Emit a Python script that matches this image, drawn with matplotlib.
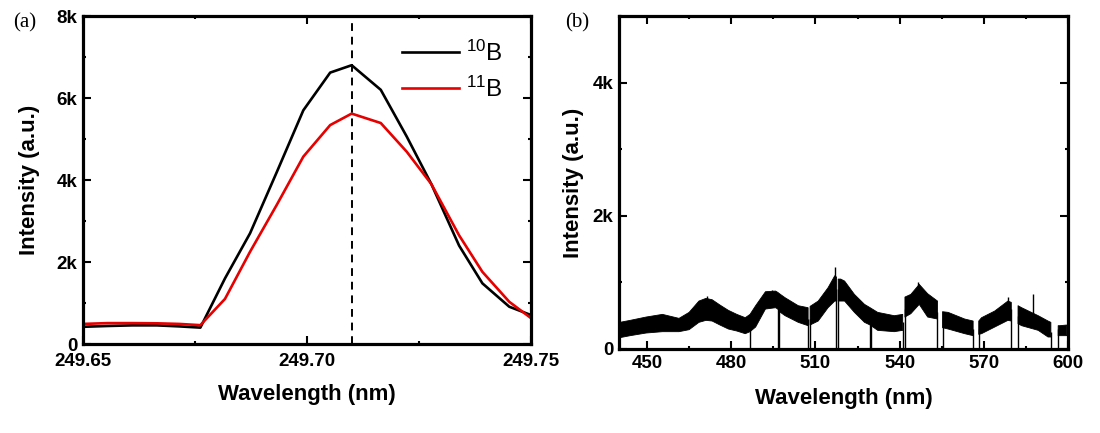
import numpy as np
import matplotlib
matplotlib.use("Agg")
import matplotlib.pyplot as plt
from matplotlib.ticker import MultipleLocator, FuncFormatter

plt.rcParams['font.family'] = ['Liberation Sans', 'DejaVu Sans']
plt.rcParams['mathtext.fontset'] = 'custom'
plt.rcParams['mathtext.rm'] = 'Liberation Sans'
plt.rcParams['mathtext.it'] = 'Liberation Sans:italic'

# ---------------- Panel (a) data ----------------
wl_a = [249.650, 249.6555, 249.661, 249.6665, 249.6715, 249.6762, 249.6817,
        249.6873, 249.6933, 249.6992, 249.7052, 249.7100, 249.7165, 249.7223,
        249.7278, 249.7340, 249.7392, 249.7452, 249.7502]
b10 = [420, 440, 455, 455, 430, 400, 1600, 2700, 4200, 5700, 6620, 6800,
       6200, 5060, 3900, 2400, 1480, 910, 700]
b11 = [490, 510, 510, 505, 490, 460, 1100, 2250, 3400, 4570, 5340, 5620,
       5390, 4690, 3900, 2650, 1760, 1030, 620]
peak_wl = 249.7100
labels_a = ['$^{10}$B', '$^{11}$B']

# ---------------- Panel (b) data (noise-band envelopes) ----------------
nan = np.nan
wl_b = [440.3, 444, 449.7, 455.5, 461.4, 465, 468.5, 471, 473.2, 476, 479, 482,
        485, 486.7, 488.7, 492.2, 495.8, 496.6, 497.2, 499.2, 503.9, 507.4,
        507.45, 508.1, 511, 514.5, 516.9, 517.5, 517.55, 518.1, 519.0, 520.4,
        523.9, 527.5, 529.5, 532.2, 538.1, 541.1,
        541.15, 541.9, 544, 547, 550, 553.5,
        553.55, 555.3, 557.3, 563.2, 566.2,
        566.25, 568.2, 569.2, 573.9, 578.6, 579.8,
        579.85, 582.2, 583.5, 589.4, 592.9, 593.9,
        593.95, 596.5, 597.1, 599.5]
hi_b = [400, 430, 480, 520, 460, 550, 720, 760, 740, 660, 580, 520,
        470, 520, 650, 860, 870, 850, 830, 770, 650, 620,
        nan, 640, 720, 920, 1100, 1080,
        nan, 1050, 1050, 1020,
        820, 670, 620, 550, 500, 520,
        nan, 780, 820, 970, 830, 720,
        nan, 560, 550, 450, 420,
        nan, 420, 470, 570, 720, 700,
        nan, 650, 620, 500, 420, 400,
        nan, 350, 350, 360]
lo_b = [170, 200, 240, 260, 260, 290, 400, 430, 420, 360, 300, 270,
        230, 260, 330, 600, 620, 600, 560, 500, 400, 350,
        nan, 360, 420, 620, 720, 720,
        nan, 720, 720, 720,
        550, 400, 360, 280, 260, 280,
        nan, 480, 530, 670, 480, 450,
        nan, 320, 300, 230, 200,
        nan, 220, 230, 330, 430, 420,
        nan, 380, 350, 280, 180, 180,
        nan, 200, 200, 200]
drop_wl = [486.8, 496.6, 497.1, 507.4, 508.1, 517.5, 518.1, 529.4, 529.8,
           541.1, 541.9, 553.5, 555.3, 566.2, 568.2, 579.8, 582.2, 593.9, 596.5]
drop_top = [450, 700, 700, 450, 450, 900, 900, 500, 500,
            400, 600, 550, 450, 300, 300, 600, 500, 250, 300]
spike_wl = [516.9, 578.6, 587.5, 546.5, 471.5, 494.5]
spike_top = [1230, 780, 830, 1000, 790, 880]
spike_bot = [800, 500, 400, 700, 500, 650]

# ---------------- Figure ----------------
fig = plt.figure(figsize=(11, 4.33), dpi=100)
ax1 = fig.add_axes([0.0755, 0.2055, 0.407, 0.7575])
ax2 = fig.add_axes([0.5627, 0.194, 0.4082, 0.769])

kfmt = FuncFormatter(lambda v, p: '0' if v == 0 else f'{int(v/1000)}k')

def style(ax):
    for s in ax.spines.values():
        s.set_linewidth(2.3)
    ax.tick_params(which='both', direction='in', top=True, right=True,
                   width=1.5, labelsize=13.5)
    ax.tick_params(which='major', length=5.5, pad=4)
    ax.tick_params(which='minor', length=2.5)
    for lab in ax.get_xticklabels() + ax.get_yticklabels():
        lab.set_fontweight('bold')
    ax.yaxis.set_major_formatter(kfmt)

# Panel (a)
ax1.plot(wl_a, b10, color='black', lw=1.9, label=labels_a[0])
ax1.plot(wl_a, b11, color='#e60000', lw=1.9, label=labels_a[1])
ax1.axvline(peak_wl, color='black', lw=1.4, ls=(0, (4, 3)))
ax1.set_xlim(249.65, 249.75)
ax1.set_ylim(0, 8000)
ax1.xaxis.set_major_locator(MultipleLocator(0.05))
ax1.xaxis.set_minor_locator(MultipleLocator(0.025))
ax1.yaxis.set_major_locator(MultipleLocator(2000))
ax1.yaxis.set_minor_locator(MultipleLocator(1000))
ax1.xaxis.set_major_formatter(FuncFormatter(lambda v, p: f'{v:.2f}'))
style(ax1)
ax1.tick_params(axis='x', which='major', pad=6.5)
ax1.set_xlabel('Wavelength (nm)', fontsize=16, fontweight='bold', labelpad=10)
ax1.set_ylabel('Intensity (a.u.)', fontsize=16, fontweight='bold', labelpad=12)
leg = ax1.legend(loc='upper left', frameon=False, fontsize=17.5,
                 handlelength=2.35, handletextpad=0.3, labelspacing=0.45,
                 bbox_to_anchor=(0.7125, 0.925), borderaxespad=0, borderpad=0)

# Panel (b)
ax2.fill_between(wl_b, lo_b, hi_b, color='black', lw=0.6, edgecolor='black')
ax2.vlines(drop_wl, 0, drop_top, color='black', lw=1.0)
ax2.vlines(spike_wl, spike_bot, spike_top, color='black', lw=1.0)
ax2.set_xlim(440, 600)
ax2.set_ylim(0, 5000)
ax2.xaxis.set_major_locator(MultipleLocator(30))
ax2.xaxis.set_minor_locator(MultipleLocator(15))
ax2.yaxis.set_major_locator(MultipleLocator(2000))
ax2.yaxis.set_minor_locator(MultipleLocator(1000))
style(ax2)
ax2.set_xlabel('Wavelength (nm)', fontsize=16, fontweight='bold', labelpad=12)
ax2.set_ylabel('Intensity (a.u.)', fontsize=16, fontweight='bold', labelpad=6)

fig.text(0.022, 0.948, '(a)', family=['Liberation Serif'], fontsize=15,
         ha='center', va='center')
fig.text(0.525, 0.948, '(b)', family=['Liberation Serif'], fontsize=15,
         ha='center', va='center')

fig.savefig('out.png', dpi=100)
